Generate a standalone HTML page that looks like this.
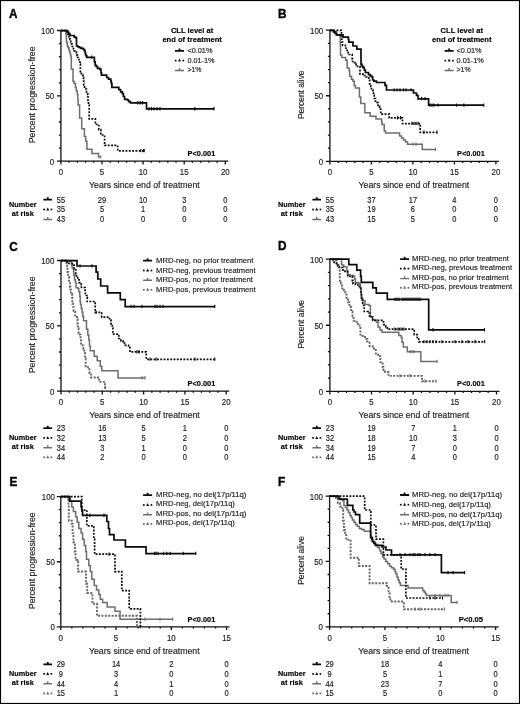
<!DOCTYPE html>
<html><head><meta charset="utf-8"><style>
html,body{margin:0;padding:0;background:#fff;}
svg{display:block;font-family:"Liberation Sans", sans-serif;-webkit-font-smoothing:antialiased;will-change:transform;}
text{stroke:currentColor;stroke-width:0.15px;paint-order:stroke;}
</style></head><body>
<svg width="520" height="704" viewBox="0 0 520 704">
<rect x="0" y="0" width="520" height="704" fill="#fff"/>
<rect x="0.5" y="0.5" width="519" height="703" fill="none" stroke="#000" stroke-width="1.2"/>
<path d="M60.90,29.70V161.80M56.90,161.20H60.90M58.90,148.13H60.90M58.90,135.06H60.90M58.90,121.99H60.90M58.90,108.92H60.90M56.90,95.85H60.90M58.90,82.78H60.90M58.90,69.71H60.90M58.90,56.64H60.90M58.90,43.57H60.90M56.90,30.50H60.90M57.70,161.20H228.30M60.90,161.20V164.50M69.12,161.20V162.80M77.34,161.20V162.80M85.56,161.20V162.80M93.78,161.20V162.80M102.00,161.20V164.50M110.22,161.20V162.80M118.44,161.20V162.80M126.66,161.20V162.80M134.88,161.20V162.80M143.10,161.20V164.50M151.32,161.20V162.80M159.54,161.20V162.80M167.76,161.20V162.80M175.98,161.20V162.80M184.20,161.20V164.50M192.42,161.20V162.80M200.64,161.20V162.80M208.86,161.20V162.80M217.08,161.20V162.80M225.30,161.20V164.50" stroke="#111" stroke-width="1.3" fill="none"/>
<text transform="translate(54.20,164.80) scale(0.95,1)" font-size="8.3" text-anchor="end" fill="#222">0</text>
<text transform="translate(54.20,99.45) scale(0.95,1)" font-size="8.3" text-anchor="end" fill="#222">50</text>
<text transform="translate(54.20,34.10) scale(0.95,1)" font-size="8.3" text-anchor="end" fill="#222">100</text>
<text transform="translate(60.90,174.90) scale(0.95,1)" font-size="8.3" text-anchor="middle" fill="#222">0</text>
<text transform="translate(102.00,174.90) scale(0.95,1)" font-size="8.3" text-anchor="middle" fill="#222">5</text>
<text transform="translate(143.10,174.90) scale(0.95,1)" font-size="8.3" text-anchor="middle" fill="#222">10</text>
<text transform="translate(184.20,174.90) scale(0.95,1)" font-size="8.3" text-anchor="middle" fill="#222">15</text>
<text transform="translate(225.30,174.90) scale(0.95,1)" font-size="8.3" text-anchor="middle" fill="#222">20</text>
<text transform="translate(9.00,17.60) scale(0.9,1)" font-size="13.1" font-weight="bold" text-anchor="start" fill="#000" style="stroke-width:0.4px">A</text>
<text transform="translate(34.80,94.85) rotate(-90)" font-size="8.8" text-anchor="middle" fill="#222" textLength="97.0" lengthAdjust="spacingAndGlyphs">Percent progression-free</text>
<text x="89.10" y="188.00" font-size="9.4" text-anchor="start" fill="#222" textLength="110.6" lengthAdjust="spacingAndGlyphs">Years since end of treatment</text>
<path d="M60.90,30.60H66.00V34.00H66.30V38.00H66.50V42.60H67.30V45.70H68.00V47.50H68.80V49.50H69.40V51.50H70.00V53.40H70.60V56.00H71.20V58.80H71.30V69.00H73.00V81.20H74.00V83.50H75.40V87.40H76.30V91.00H77.30V94.30H77.80V99.00H78.10V104.90H79.60V118.00H81.70V128.80H84.40V136.50H85.80V141.20H86.90V149.20H91.90V153.50H98.50V157.00H100.80" stroke="#6e6e6e" stroke-width="1.5" fill="none" stroke-linejoin="miter"/>
<path d="M100.80,155.20V158.50M100.80,155.20V158.50" stroke="#6e6e6e" stroke-width="1.1" fill="none"/>
<path d="M60.90,30.60H67.30V32.50H68.00V34.50H69.00V37.00H70.00V39.50H70.80V42.00H71.50V44.00H72.30V46.50H73.50V49.00H74.20V50.80H76.50V53.00H77.00V55.30H77.60V57.50H78.20V59.50H79.00V62.00H80.00V64.20H80.40V73.70H83.00V77.40H83.50V81.00H83.80V85.00H84.60V89.00H86.50V92.80H87.70V94.30H88.00V100.50H88.50V105.00H89.20V118.90H95.40V124.50H98.80V129.60H100.80V135.00H104.60V145.40H117.70V150.80H144.20" stroke="#0a0a0a" stroke-width="1.7" fill="none" stroke-linejoin="miter" stroke-dasharray="1.9 1.4"/>
<path d="M140.80,149.00V152.30M143.50,149.00V152.30M144.20,149.00V152.30" stroke="#0a0a0a" stroke-width="1.1" fill="none"/>
<path d="M60.90,30.60H67.60V32.00H68.60V33.60H69.90V35.50H74.20V37.20H76.00V38.20H76.50V46.00H78.00V46.80H79.50V47.60H81.00V48.40H83.40V49.50H84.50V51.00H85.20V53.50H85.70V55.70H86.80V57.30H94.40V61.90H95.20V65.40H96.30V66.50H97.50V68.30H99.80V69.40H101.00V72.90H101.50V75.20H106.70V77.50H108.50V79.20H110.80V81.00H111.30V83.30H111.90V87.30H118.80V89.60H120.60V91.90H122.30V93.60H123.40V96.50H124.60V99.40H127.50V100.00H128.60V101.70H130.40V102.90H146.50V108.90H214.00" stroke="#0a0a0a" stroke-width="1.7" fill="none" stroke-linejoin="miter"/>
<path d="M91.70,55.50V58.80M137.90,101.10V104.40M140.20,101.10V104.40M142.50,101.10V104.40M149.00,107.10V110.40M151.50,107.10V110.40M154.00,107.10V110.40M157.00,107.10V110.40M160.00,107.10V110.40M194.80,107.10V110.40M214.00,107.10V110.40" stroke="#0a0a0a" stroke-width="1.1" fill="none"/>
<text x="192.10" y="33.10" font-size="8.0" font-weight="bold" text-anchor="middle" fill="#000" textLength="42.4" lengthAdjust="spacingAndGlyphs">CLL level at</text>
<text x="192.10" y="42.00" font-size="8.0" font-weight="bold" text-anchor="middle" fill="#000" textLength="59.4" lengthAdjust="spacingAndGlyphs">end of treatment</text>
<path d="M175.00,50.90H184.00M179.50,50.90V48.50" stroke="#0a0a0a" stroke-width="1.8" fill="none"/>
<text x="187.40" y="53.00" font-size="8.1" text-anchor="start" fill="#1a1a1a" textLength="25.0" lengthAdjust="spacingAndGlyphs">&lt;0.01%</text>
<rect x="174.85" y="59.75" width="1.70" height="1.70" fill="#0a0a0a"/>
<rect x="182.45" y="59.75" width="1.70" height="1.70" fill="#0a0a0a"/>
<path d="M178.00,61.60L179.50,58.60L181.00,61.60Z" fill="#0a0a0a"/>
<text x="187.40" y="62.70" font-size="8.1" text-anchor="start" fill="#1a1a1a" textLength="27.2" lengthAdjust="spacingAndGlyphs">0.01-1%</text>
<path d="M175.00,70.50H184.00M179.50,70.50V68.10" stroke="#6e6e6e" stroke-width="1.4" fill="none"/>
<text x="187.40" y="72.20" font-size="8.1" text-anchor="start" fill="#1a1a1a" textLength="14.0" lengthAdjust="spacingAndGlyphs">&gt;1%</text>
<text x="201.40" y="155.90" font-size="8.0" font-weight="bold" text-anchor="middle" fill="#000" textLength="27.7" lengthAdjust="spacingAndGlyphs">P&lt;0.001</text>
<text x="22.80" y="206.80" font-size="7.8" font-weight="bold" text-anchor="middle" fill="#000" textLength="27.4" lengthAdjust="spacingAndGlyphs">Number</text>
<text x="22.80" y="215.50" font-size="7.8" font-weight="bold" text-anchor="middle" fill="#000" textLength="22.0" lengthAdjust="spacingAndGlyphs">at risk</text>
<path d="M43.40,199.60H52.10M47.75,199.60V197.20" stroke="#0a0a0a" stroke-width="1.8" fill="none"/>
<text transform="translate(60.90,202.55) scale(0.91,1)" font-size="8.2" text-anchor="middle" fill="#1a1a1a">55</text>
<text transform="translate(102.00,202.55) scale(0.91,1)" font-size="8.2" text-anchor="middle" fill="#1a1a1a">29</text>
<text transform="translate(143.10,202.55) scale(0.91,1)" font-size="8.2" text-anchor="middle" fill="#1a1a1a">10</text>
<text transform="translate(184.20,202.55) scale(0.91,1)" font-size="8.2" text-anchor="middle" fill="#1a1a1a">3</text>
<text transform="translate(225.30,202.55) scale(0.91,1)" font-size="8.2" text-anchor="middle" fill="#1a1a1a">0</text>
<rect x="43.25" y="208.65" width="1.70" height="1.70" fill="#0a0a0a"/>
<rect x="50.55" y="208.65" width="1.70" height="1.70" fill="#0a0a0a"/>
<path d="M46.25,210.50L47.75,207.50L49.25,210.50Z" fill="#0a0a0a"/>
<text transform="translate(60.90,212.45) scale(0.91,1)" font-size="8.2" text-anchor="middle" fill="#1a1a1a">35</text>
<text transform="translate(102.00,212.45) scale(0.91,1)" font-size="8.2" text-anchor="middle" fill="#1a1a1a">5</text>
<text transform="translate(143.10,212.45) scale(0.91,1)" font-size="8.2" text-anchor="middle" fill="#1a1a1a">1</text>
<text transform="translate(184.20,212.45) scale(0.91,1)" font-size="8.2" text-anchor="middle" fill="#1a1a1a">0</text>
<text transform="translate(225.30,212.45) scale(0.91,1)" font-size="8.2" text-anchor="middle" fill="#1a1a1a">0</text>
<path d="M43.40,219.50H52.10M47.75,219.50V217.10" stroke="#6e6e6e" stroke-width="1.4" fill="none"/>
<text transform="translate(60.90,222.45) scale(0.91,1)" font-size="8.2" text-anchor="middle" fill="#1a1a1a">43</text>
<text transform="translate(102.00,222.45) scale(0.91,1)" font-size="8.2" text-anchor="middle" fill="#1a1a1a">0</text>
<text transform="translate(143.10,222.45) scale(0.91,1)" font-size="8.2" text-anchor="middle" fill="#1a1a1a">0</text>
<text transform="translate(184.20,222.45) scale(0.91,1)" font-size="8.2" text-anchor="middle" fill="#1a1a1a">0</text>
<text transform="translate(225.30,222.45) scale(0.91,1)" font-size="8.2" text-anchor="middle" fill="#1a1a1a">0</text>
<path d="M329.90,29.40V161.90M325.90,161.30H329.90M327.90,148.19H329.90M327.90,135.08H329.90M327.90,121.97H329.90M327.90,108.86H329.90M325.90,95.75H329.90M327.90,82.64H329.90M327.90,69.53H329.90M327.90,56.42H329.90M327.90,43.31H329.90M325.90,30.20H329.90M326.70,161.30H498.90M329.90,161.30V164.60M338.20,161.30V162.90M346.50,161.30V162.90M354.80,161.30V162.90M363.10,161.30V162.90M371.40,161.30V164.60M379.70,161.30V162.90M388.00,161.30V162.90M396.30,161.30V162.90M404.60,161.30V162.90M412.90,161.30V164.60M421.20,161.30V162.90M429.50,161.30V162.90M437.80,161.30V162.90M446.10,161.30V162.90M454.40,161.30V164.60M462.70,161.30V162.90M471.00,161.30V162.90M479.30,161.30V162.90M487.60,161.30V162.90M495.90,161.30V164.60" stroke="#111" stroke-width="1.3" fill="none"/>
<text transform="translate(323.20,164.90) scale(0.95,1)" font-size="8.3" text-anchor="end" fill="#222">0</text>
<text transform="translate(323.20,99.35) scale(0.95,1)" font-size="8.3" text-anchor="end" fill="#222">50</text>
<text transform="translate(323.20,33.80) scale(0.95,1)" font-size="8.3" text-anchor="end" fill="#222">100</text>
<text transform="translate(329.90,175.00) scale(0.95,1)" font-size="8.3" text-anchor="middle" fill="#222">0</text>
<text transform="translate(371.40,175.00) scale(0.95,1)" font-size="8.3" text-anchor="middle" fill="#222">5</text>
<text transform="translate(412.90,175.00) scale(0.95,1)" font-size="8.3" text-anchor="middle" fill="#222">10</text>
<text transform="translate(454.40,175.00) scale(0.95,1)" font-size="8.3" text-anchor="middle" fill="#222">15</text>
<text transform="translate(495.90,175.00) scale(0.95,1)" font-size="8.3" text-anchor="middle" fill="#222">20</text>
<text transform="translate(278.00,17.60) scale(0.9,1)" font-size="13.1" font-weight="bold" text-anchor="start" fill="#000" style="stroke-width:0.4px">B</text>
<text transform="translate(303.80,94.75) rotate(-90)" font-size="8.8" text-anchor="middle" fill="#222" textLength="48.6" lengthAdjust="spacingAndGlyphs">Percent alive</text>
<text x="358.60" y="188.10" font-size="9.4" text-anchor="start" fill="#222" textLength="110.6" lengthAdjust="spacingAndGlyphs">Years since end of treatment</text>
<path d="M329.90,30.30H333.40V31.50H336.50V34.90H339.80V35.70H340.30V45.00H340.50V54.90H341.80V57.40H345.60V60.30H347.20V68.00H349.20V70.80H349.60V76.20H351.50V79.20H353.00V81.20H354.20V85.40H355.40V88.00H359.40V96.90H360.80V103.60H364.80V112.80H370.20V116.30H376.00V119.00H381.60V121.50H382.00V124.60H384.20V130.80H385.50V133.00H399.60V136.00H401.50V138.00H403.50V140.00H405.50V142.00H407.60V144.20H422.30V149.60H435.40" stroke="#6e6e6e" stroke-width="1.5" fill="none" stroke-linejoin="miter"/>
<path d="M413.00,142.40V145.70M416.00,142.40V145.70M435.40,147.80V151.10" stroke="#6e6e6e" stroke-width="1.1" fill="none"/>
<path d="M329.90,30.30H341.50V37.20H341.80V42.20H342.60V45.30H345.30V46.80H346.00V50.30H347.20V52.60H349.20V54.50H352.20V58.80H352.60V62.60H355.00V64.20H356.00V66.30H360.00V74.20H364.20V75.50H366.00V77.00H367.70V77.70H368.80V80.00H369.60V83.80H370.80V86.50H371.50V90.00H373.00V92.30H373.50V95.40H374.20V98.50H375.40V101.20H377.30V102.70H378.00V106.20H379.60V109.20H380.80V114.20H389.20V117.90H402.50V123.60H420.20V132.30H437.00" stroke="#0a0a0a" stroke-width="1.7" fill="none" stroke-linejoin="miter" stroke-dasharray="1.9 1.4"/>
<path d="M397.50,116.10V119.40M400.50,116.10V119.40M412.00,121.80V125.10M414.00,121.80V125.10M416.00,121.80V125.10M418.00,121.80V125.10M424.00,130.50V133.80M437.00,130.50V133.80" stroke="#0a0a0a" stroke-width="1.1" fill="none"/>
<path d="M329.90,30.30H333.40V31.80H335.00V33.40H336.50V34.90H343.00V37.20H348.40V39.50H348.80V42.20H353.00V46.00H356.80V49.20H361.00V64.20H361.80V65.70H362.70V67.30H364.20V70.00H365.40V72.50H368.50V74.60H370.40V76.20H371.90V77.00H372.70V80.00H373.80V81.20H376.50V82.50H385.00V85.40H386.50V90.00H413.50V93.00H416.50V95.40H418.00V98.80H428.60V105.20H483.80" stroke="#0a0a0a" stroke-width="1.7" fill="none" stroke-linejoin="miter"/>
<path d="M394.20,88.20V91.50M397.00,88.20V91.50M400.00,88.20V91.50M403.50,88.20V91.50M406.00,88.20V91.50M411.00,88.20V91.50M421.50,97.00V100.30M425.00,97.00V100.30M430.00,103.40V106.70M432.00,103.40V106.70M434.00,103.40V106.70M438.00,103.40V106.70M456.50,103.40V106.70M464.00,103.40V106.70M483.80,103.40V106.70" stroke="#0a0a0a" stroke-width="1.1" fill="none"/>
<text x="461.80" y="33.10" font-size="8.0" font-weight="bold" text-anchor="middle" fill="#000" textLength="42.4" lengthAdjust="spacingAndGlyphs">CLL level at</text>
<text x="461.80" y="42.00" font-size="8.0" font-weight="bold" text-anchor="middle" fill="#000" textLength="59.4" lengthAdjust="spacingAndGlyphs">end of treatment</text>
<path d="M444.60,50.90H453.60M449.10,50.90V48.50" stroke="#0a0a0a" stroke-width="1.8" fill="none"/>
<text x="456.60" y="53.00" font-size="8.1" text-anchor="start" fill="#1a1a1a" textLength="25.0" lengthAdjust="spacingAndGlyphs">&lt;0.01%</text>
<rect x="444.45" y="59.75" width="1.70" height="1.70" fill="#0a0a0a"/>
<rect x="452.05" y="59.75" width="1.70" height="1.70" fill="#0a0a0a"/>
<path d="M447.60,61.60L449.10,58.60L450.60,61.60Z" fill="#0a0a0a"/>
<text x="456.60" y="62.70" font-size="8.1" text-anchor="start" fill="#1a1a1a" textLength="27.2" lengthAdjust="spacingAndGlyphs">0.01-1%</text>
<path d="M444.60,70.50H453.60M449.10,70.50V68.10" stroke="#6e6e6e" stroke-width="1.4" fill="none"/>
<text x="456.60" y="72.20" font-size="8.1" text-anchor="start" fill="#1a1a1a" textLength="14.0" lengthAdjust="spacingAndGlyphs">&gt;1%</text>
<text x="470.90" y="155.90" font-size="8.0" font-weight="bold" text-anchor="middle" fill="#000" textLength="27.7" lengthAdjust="spacingAndGlyphs">P&lt;0.001</text>
<text x="291.80" y="206.80" font-size="7.8" font-weight="bold" text-anchor="middle" fill="#000" textLength="27.4" lengthAdjust="spacingAndGlyphs">Number</text>
<text x="291.80" y="215.50" font-size="7.8" font-weight="bold" text-anchor="middle" fill="#000" textLength="22.0" lengthAdjust="spacingAndGlyphs">at risk</text>
<path d="M312.40,199.60H321.10M316.75,199.60V197.20" stroke="#0a0a0a" stroke-width="1.8" fill="none"/>
<text transform="translate(329.90,202.55) scale(0.91,1)" font-size="8.2" text-anchor="middle" fill="#1a1a1a">55</text>
<text transform="translate(371.40,202.55) scale(0.91,1)" font-size="8.2" text-anchor="middle" fill="#1a1a1a">37</text>
<text transform="translate(412.90,202.55) scale(0.91,1)" font-size="8.2" text-anchor="middle" fill="#1a1a1a">17</text>
<text transform="translate(454.40,202.55) scale(0.91,1)" font-size="8.2" text-anchor="middle" fill="#1a1a1a">4</text>
<text transform="translate(495.90,202.55) scale(0.91,1)" font-size="8.2" text-anchor="middle" fill="#1a1a1a">0</text>
<rect x="312.25" y="208.65" width="1.70" height="1.70" fill="#0a0a0a"/>
<rect x="319.55" y="208.65" width="1.70" height="1.70" fill="#0a0a0a"/>
<path d="M315.25,210.50L316.75,207.50L318.25,210.50Z" fill="#0a0a0a"/>
<text transform="translate(329.90,212.45) scale(0.91,1)" font-size="8.2" text-anchor="middle" fill="#1a1a1a">35</text>
<text transform="translate(371.40,212.45) scale(0.91,1)" font-size="8.2" text-anchor="middle" fill="#1a1a1a">19</text>
<text transform="translate(412.90,212.45) scale(0.91,1)" font-size="8.2" text-anchor="middle" fill="#1a1a1a">6</text>
<text transform="translate(454.40,212.45) scale(0.91,1)" font-size="8.2" text-anchor="middle" fill="#1a1a1a">0</text>
<text transform="translate(495.90,212.45) scale(0.91,1)" font-size="8.2" text-anchor="middle" fill="#1a1a1a">0</text>
<path d="M312.40,219.50H321.10M316.75,219.50V217.10" stroke="#6e6e6e" stroke-width="1.4" fill="none"/>
<text transform="translate(329.90,222.45) scale(0.91,1)" font-size="8.2" text-anchor="middle" fill="#1a1a1a">43</text>
<text transform="translate(371.40,222.45) scale(0.91,1)" font-size="8.2" text-anchor="middle" fill="#1a1a1a">15</text>
<text transform="translate(412.90,222.45) scale(0.91,1)" font-size="8.2" text-anchor="middle" fill="#1a1a1a">5</text>
<text transform="translate(454.40,222.45) scale(0.91,1)" font-size="8.2" text-anchor="middle" fill="#1a1a1a">0</text>
<text transform="translate(495.90,222.45) scale(0.91,1)" font-size="8.2" text-anchor="middle" fill="#1a1a1a">0</text>
<path d="M61.00,259.70V391.80M57.00,391.20H61.00M59.00,378.13H61.00M59.00,365.06H61.00M59.00,351.99H61.00M59.00,338.92H61.00M57.00,325.85H61.00M59.00,312.78H61.00M59.00,299.71H61.00M59.00,286.64H61.00M59.00,273.57H61.00M57.00,260.50H61.00M57.80,391.20H229.20M61.00,391.20V394.50M69.26,391.20V392.80M77.52,391.20V392.80M85.78,391.20V392.80M94.04,391.20V392.80M102.30,391.20V394.50M110.56,391.20V392.80M118.82,391.20V392.80M127.08,391.20V392.80M135.34,391.20V392.80M143.60,391.20V394.50M151.86,391.20V392.80M160.12,391.20V392.80M168.38,391.20V392.80M176.64,391.20V392.80M184.90,391.20V394.50M193.16,391.20V392.80M201.42,391.20V392.80M209.68,391.20V392.80M217.94,391.20V392.80M226.20,391.20V394.50" stroke="#111" stroke-width="1.3" fill="none"/>
<text transform="translate(54.30,394.80) scale(0.95,1)" font-size="8.3" text-anchor="end" fill="#222">0</text>
<text transform="translate(54.30,329.45) scale(0.95,1)" font-size="8.3" text-anchor="end" fill="#222">50</text>
<text transform="translate(54.30,264.10) scale(0.95,1)" font-size="8.3" text-anchor="end" fill="#222">100</text>
<text transform="translate(61.00,404.90) scale(0.95,1)" font-size="8.3" text-anchor="middle" fill="#222">0</text>
<text transform="translate(102.30,404.90) scale(0.95,1)" font-size="8.3" text-anchor="middle" fill="#222">5</text>
<text transform="translate(143.60,404.90) scale(0.95,1)" font-size="8.3" text-anchor="middle" fill="#222">10</text>
<text transform="translate(184.90,404.90) scale(0.95,1)" font-size="8.3" text-anchor="middle" fill="#222">15</text>
<text transform="translate(226.20,404.90) scale(0.95,1)" font-size="8.3" text-anchor="middle" fill="#222">20</text>
<text transform="translate(9.20,250.50) scale(0.9,1)" font-size="13.1" font-weight="bold" text-anchor="start" fill="#000" style="stroke-width:0.4px">C</text>
<text transform="translate(34.90,324.85) rotate(-90)" font-size="8.8" text-anchor="middle" fill="#222" textLength="97.0" lengthAdjust="spacingAndGlyphs">Percent progression-free</text>
<text x="89.20" y="418.00" font-size="9.4" text-anchor="start" fill="#222" textLength="110.6" lengthAdjust="spacingAndGlyphs">Years since end of treatment</text>
<path d="M61.00,260.60H66.60V263.00H67.00V267.00H67.50V272.00H68.20V277.00H69.00V282.00H70.00V287.00H70.50V290.00H70.90V293.80H72.10V297.70H72.30V303.80H73.20V306.90H73.60V310.80H75.20V316.90H77.10V319.20H77.50V323.80H77.80V328.50H78.60V333.00H79.80V334.60H80.50V339.20H81.00V345.40H83.40V348.50H84.20V353.00H85.00V358.50H85.70V366.20H88.00V369.20H89.50V373.00H91.00V377.50H99.20V381.90H105.00V387.70H105.50" stroke="#666666" stroke-width="1.9" fill="none" stroke-linejoin="miter" stroke-dasharray="2.0 1.4"/>
<path d="M105.50,385.90V389.20" stroke="#666666" stroke-width="1.1" fill="none"/>
<path d="M61.00,260.60H69.50V261.50H71.50V264.90H72.10V268.10H73.50V271.30H73.80V275.30H74.50V279.80H75.40V282.60H76.10V287.70H77.90V288.60H78.80V291.80H79.80V296.50H80.20V302.00H80.50V304.60H81.30V308.50H82.10V312.30H82.80V316.50H83.60V320.80H86.50V329.20H87.80V335.00H88.80V340.00H89.50V346.00H90.30V350.80H94.20V356.20H97.20V360.80H100.30V366.20H101.80V370.80H118.00V377.90H145.00" stroke="#6e6e6e" stroke-width="1.5" fill="none" stroke-linejoin="miter"/>
<path d="M142.00,376.10V379.40M145.00,376.10V379.40" stroke="#6e6e6e" stroke-width="1.1" fill="none"/>
<path d="M61.00,260.60H67.00V262.00H67.50V263.50H73.50V265.00H74.10V268.70H75.80V273.60H76.50V277.60H77.70V279.80H79.10V282.60H81.30V285.00H81.50V287.50H85.10V291.80H85.30V295.50H86.90V297.40H87.20V301.50H95.20V312.30H101.70V317.20H109.50V320.00H111.00V323.80H112.30V328.00H112.80V334.20H118.80V338.50H121.00V340.80H123.00V343.00H124.50V345.40H128.50V347.70H130.00V351.90H146.20V359.30H214.80" stroke="#0a0a0a" stroke-width="1.7" fill="none" stroke-linejoin="miter" stroke-dasharray="1.9 1.4"/>
<path d="M96.00,310.50V313.80M137.00,350.10V353.40M139.00,350.10V353.40M150.00,357.50V360.80M156.00,357.50V360.80M195.00,357.50V360.80M214.80,357.50V360.80" stroke="#0a0a0a" stroke-width="1.1" fill="none"/>
<path d="M61.00,260.60H77.00V266.00H96.10V272.10H97.80V279.00H100.70V286.00H107.60V292.90H120.30V299.60H125.20V306.60H214.80" stroke="#0a0a0a" stroke-width="1.7" fill="none" stroke-linejoin="miter"/>
<path d="M80.00,264.20V267.50M92.00,264.20V267.50M131.00,304.80V308.10M134.00,304.80V308.10M142.00,304.80V308.10M155.00,304.80V308.10M157.00,304.80V308.10M160.00,304.80V308.10M163.00,304.80V308.10M214.80,304.80V308.10" stroke="#0a0a0a" stroke-width="1.1" fill="none"/>
<path d="M143.10,260.70H152.10M147.60,260.70V258.30" stroke="#0a0a0a" stroke-width="1.8" fill="none"/>
<text x="156.10" y="262.80" font-size="8.1" text-anchor="start" fill="#1a1a1a" textLength="97.3" lengthAdjust="spacingAndGlyphs">MRD-neg, no prior treatment</text>
<rect x="142.95" y="269.65" width="1.70" height="1.70" fill="#0a0a0a"/>
<rect x="150.55" y="269.65" width="1.70" height="1.70" fill="#0a0a0a"/>
<path d="M146.10,271.50L147.60,268.50L149.10,271.50Z" fill="#0a0a0a"/>
<text x="156.10" y="272.60" font-size="8.1" text-anchor="start" fill="#1a1a1a" textLength="99.6" lengthAdjust="spacingAndGlyphs">MRD-neg, previous treatment</text>
<path d="M143.10,280.20H152.10M147.60,280.20V277.80" stroke="#6e6e6e" stroke-width="1.4" fill="none"/>
<text x="156.10" y="282.30" font-size="8.1" text-anchor="start" fill="#1a1a1a" textLength="96.8" lengthAdjust="spacingAndGlyphs">MRD-pos, no prior treatment</text>
<rect x="142.95" y="288.95" width="1.70" height="1.70" fill="#666666"/>
<rect x="150.55" y="288.95" width="1.70" height="1.70" fill="#666666"/>
<path d="M146.10,290.80L147.60,287.80L149.10,290.80Z" fill="#666666"/>
<text x="156.10" y="291.90" font-size="8.1" text-anchor="start" fill="#1a1a1a" textLength="99.6" lengthAdjust="spacingAndGlyphs">MRD-pos, previous treatment</text>
<text x="201.40" y="385.60" font-size="8.0" font-weight="bold" text-anchor="middle" fill="#000" textLength="27.7" lengthAdjust="spacingAndGlyphs">P&lt;0.001</text>
<text x="22.80" y="440.30" font-size="7.8" font-weight="bold" text-anchor="middle" fill="#000" textLength="27.4" lengthAdjust="spacingAndGlyphs">Number</text>
<text x="22.80" y="449.30" font-size="7.8" font-weight="bold" text-anchor="middle" fill="#000" textLength="22.0" lengthAdjust="spacingAndGlyphs">at risk</text>
<path d="M43.40,428.10H52.10M47.75,428.10V425.70" stroke="#0a0a0a" stroke-width="1.8" fill="none"/>
<text transform="translate(61.00,431.05) scale(0.91,1)" font-size="8.2" text-anchor="middle" fill="#1a1a1a">23</text>
<text transform="translate(102.30,431.05) scale(0.91,1)" font-size="8.2" text-anchor="middle" fill="#1a1a1a">16</text>
<text transform="translate(143.60,431.05) scale(0.91,1)" font-size="8.2" text-anchor="middle" fill="#1a1a1a">5</text>
<text transform="translate(184.90,431.05) scale(0.91,1)" font-size="8.2" text-anchor="middle" fill="#1a1a1a">1</text>
<text transform="translate(226.20,431.05) scale(0.91,1)" font-size="8.2" text-anchor="middle" fill="#1a1a1a">0</text>
<rect x="43.25" y="437.05" width="1.70" height="1.70" fill="#0a0a0a"/>
<rect x="50.55" y="437.05" width="1.70" height="1.70" fill="#0a0a0a"/>
<path d="M46.25,438.90L47.75,435.90L49.25,438.90Z" fill="#0a0a0a"/>
<text transform="translate(61.00,440.85) scale(0.91,1)" font-size="8.2" text-anchor="middle" fill="#1a1a1a">32</text>
<text transform="translate(102.30,440.85) scale(0.91,1)" font-size="8.2" text-anchor="middle" fill="#1a1a1a">13</text>
<text transform="translate(143.60,440.85) scale(0.91,1)" font-size="8.2" text-anchor="middle" fill="#1a1a1a">5</text>
<text transform="translate(184.90,440.85) scale(0.91,1)" font-size="8.2" text-anchor="middle" fill="#1a1a1a">2</text>
<text transform="translate(226.20,440.85) scale(0.91,1)" font-size="8.2" text-anchor="middle" fill="#1a1a1a">0</text>
<path d="M43.40,447.70H52.10M47.75,447.70V445.30" stroke="#6e6e6e" stroke-width="1.4" fill="none"/>
<text transform="translate(61.00,450.65) scale(0.91,1)" font-size="8.2" text-anchor="middle" fill="#1a1a1a">34</text>
<text transform="translate(102.30,450.65) scale(0.91,1)" font-size="8.2" text-anchor="middle" fill="#1a1a1a">3</text>
<text transform="translate(143.60,450.65) scale(0.91,1)" font-size="8.2" text-anchor="middle" fill="#1a1a1a">1</text>
<text transform="translate(184.90,450.65) scale(0.91,1)" font-size="8.2" text-anchor="middle" fill="#1a1a1a">0</text>
<text transform="translate(226.20,450.65) scale(0.91,1)" font-size="8.2" text-anchor="middle" fill="#1a1a1a">0</text>
<rect x="43.25" y="456.45" width="1.70" height="1.70" fill="#666666"/>
<rect x="50.55" y="456.45" width="1.70" height="1.70" fill="#666666"/>
<path d="M46.25,458.30L47.75,455.30L49.25,458.30Z" fill="#666666"/>
<text transform="translate(61.00,460.25) scale(0.91,1)" font-size="8.2" text-anchor="middle" fill="#1a1a1a">44</text>
<text transform="translate(102.30,460.25) scale(0.91,1)" font-size="8.2" text-anchor="middle" fill="#1a1a1a">2</text>
<text transform="translate(143.60,460.25) scale(0.91,1)" font-size="8.2" text-anchor="middle" fill="#1a1a1a">0</text>
<text transform="translate(184.90,460.25) scale(0.91,1)" font-size="8.2" text-anchor="middle" fill="#1a1a1a">0</text>
<text transform="translate(226.20,460.25) scale(0.91,1)" font-size="8.2" text-anchor="middle" fill="#1a1a1a">0</text>
<path d="M329.90,258.40V391.90M325.90,391.30H329.90M327.90,378.09H329.90M327.90,364.88H329.90M327.90,351.67H329.90M327.90,338.46H329.90M325.90,325.25H329.90M327.90,312.04H329.90M327.90,298.83H329.90M327.90,285.62H329.90M327.90,272.41H329.90M325.90,259.20H329.90M326.70,391.30H499.50M329.90,391.30V394.60M338.23,391.30V392.90M346.56,391.30V392.90M354.89,391.30V392.90M363.22,391.30V392.90M371.55,391.30V394.60M379.88,391.30V392.90M388.21,391.30V392.90M396.54,391.30V392.90M404.87,391.30V392.90M413.20,391.30V394.60M421.53,391.30V392.90M429.86,391.30V392.90M438.19,391.30V392.90M446.52,391.30V392.90M454.85,391.30V394.60M463.18,391.30V392.90M471.51,391.30V392.90M479.84,391.30V392.90M488.17,391.30V392.90M496.50,391.30V394.60" stroke="#111" stroke-width="1.3" fill="none"/>
<text transform="translate(323.20,394.90) scale(0.95,1)" font-size="8.3" text-anchor="end" fill="#222">0</text>
<text transform="translate(323.20,328.85) scale(0.95,1)" font-size="8.3" text-anchor="end" fill="#222">50</text>
<text transform="translate(323.20,262.80) scale(0.95,1)" font-size="8.3" text-anchor="end" fill="#222">100</text>
<text transform="translate(329.90,405.00) scale(0.95,1)" font-size="8.3" text-anchor="middle" fill="#222">0</text>
<text transform="translate(371.55,405.00) scale(0.95,1)" font-size="8.3" text-anchor="middle" fill="#222">5</text>
<text transform="translate(413.20,405.00) scale(0.95,1)" font-size="8.3" text-anchor="middle" fill="#222">10</text>
<text transform="translate(454.85,405.00) scale(0.95,1)" font-size="8.3" text-anchor="middle" fill="#222">15</text>
<text transform="translate(496.50,405.00) scale(0.95,1)" font-size="8.3" text-anchor="middle" fill="#222">20</text>
<text transform="translate(278.00,250.20) scale(0.9,1)" font-size="13.1" font-weight="bold" text-anchor="start" fill="#000" style="stroke-width:0.4px">D</text>
<text transform="translate(303.80,324.25) rotate(-90)" font-size="8.8" text-anchor="middle" fill="#222" textLength="48.6" lengthAdjust="spacingAndGlyphs">Percent alive</text>
<text x="358.60" y="418.10" font-size="9.4" text-anchor="start" fill="#222" textLength="110.6" lengthAdjust="spacingAndGlyphs">Years since end of treatment</text>
<path d="M329.80,259.10H333.00V260.50H336.90V263.70H338.50V266.00H339.60V269.00H339.80V282.20H340.80V283.30H341.90V286.00H342.30V289.80H343.80V292.20H345.40V294.50H346.50V297.80H348.00V302.30H349.50V307.00H351.20V311.50H352.50V316.00H353.50V320.80H356.50V323.80H359.60V327.00H360.40V334.60H362.70V337.00H365.00V339.00H367.30V341.50H369.60V346.20H372.70V348.50H375.80V354.60H378.00V356.20H380.40V362.30H382.70V367.00H383.50V370.00H385.00V372.00H388.50V375.90H422.00V381.20H436.00" stroke="#666666" stroke-width="1.9" fill="none" stroke-linejoin="miter" stroke-dasharray="2.0 1.4"/>
<path d="M400.00,374.10V377.40M410.00,374.10V377.40M425.00,379.40V382.70M436.00,379.40V382.70" stroke="#666666" stroke-width="1.1" fill="none"/>
<path d="M329.80,259.10H341.50V264.50H342.70V265.20H343.80V266.80H346.90V271.40H347.70V274.50H350.00V275.60H353.00V276.00H354.60V279.00H355.40V282.50H358.00V283.00H359.60V284.00H360.40V288.30H361.20V296.00H362.00V300.80H365.00V304.60H368.80V305.40H370.40V317.00H372.70V320.00H376.50V322.30H378.00V327.00H380.00V330.00H381.90V332.30H398.80V335.40H401.20V337.60H402.00V342.30H403.30V347.10H407.30V351.80H420.80V361.50H437.10" stroke="#6e6e6e" stroke-width="1.5" fill="none" stroke-linejoin="miter"/>
<path d="M410.00,350.00V353.30M412.00,350.00V353.30M414.00,350.00V353.30M437.10,359.70V363.00" stroke="#6e6e6e" stroke-width="1.1" fill="none"/>
<path d="M329.80,259.10H333.80V260.60H334.20V263.30H337.70V266.00H339.20V267.50H342.70V269.80H345.00V271.40H347.70V275.60H348.80V276.40H352.30V280.60H353.00V283.70H355.40V284.50H357.80V286.30H359.30V288.00H360.80V294.00H361.40V299.20H362.70V305.40H364.20V311.50H368.00V313.00H369.60V317.00H372.70V320.30H383.50V324.60H385.80V327.00H387.30V329.20H414.20V334.60H417.30V339.20H418.80V341.80H484.70" stroke="#0a0a0a" stroke-width="1.7" fill="none" stroke-linejoin="miter" stroke-dasharray="1.9 1.4"/>
<path d="M395.00,327.40V330.70M398.00,327.40V330.70M400.00,327.40V330.70M402.00,327.40V330.70M404.00,327.40V330.70M424.00,340.00V343.30M427.00,340.00V343.30M430.00,340.00V343.30M433.00,340.00V343.30M436.00,340.00V343.30M442.00,340.00V343.30M455.00,340.00V343.30M462.00,340.00V343.30M468.00,340.00V343.30M475.00,340.00V343.30M484.70,340.00V343.30" stroke="#0a0a0a" stroke-width="1.1" fill="none"/>
<path d="M329.80,259.10H348.80V264.60H356.80V270.20H360.60V276.40H361.30V282.40H372.80V287.80H376.30V293.20H387.30V299.40H428.70V329.90H484.50" stroke="#0a0a0a" stroke-width="1.7" fill="none" stroke-linejoin="miter"/>
<path d="M395.00,297.60V300.90M397.00,297.60V300.90M399.00,297.60V300.90M402.00,297.60V300.90M404.00,297.60V300.90M406.00,297.60V300.90M408.00,297.60V300.90M410.00,297.60V300.90M412.00,297.60V300.90M414.00,297.60V300.90M416.00,297.60V300.90M418.00,297.60V300.90M420.00,297.60V300.90M433.00,328.10V331.40M484.50,328.10V331.40" stroke="#0a0a0a" stroke-width="1.1" fill="none"/>
<path d="M400.10,259.20H409.10M404.60,259.20V256.80" stroke="#0a0a0a" stroke-width="1.8" fill="none"/>
<text x="412.10" y="260.60" font-size="8.1" text-anchor="start" fill="#1a1a1a" textLength="96.8" lengthAdjust="spacingAndGlyphs">MRD-neg, no prior treatment</text>
<rect x="399.95" y="267.75" width="1.70" height="1.70" fill="#0a0a0a"/>
<rect x="407.55" y="267.75" width="1.70" height="1.70" fill="#0a0a0a"/>
<path d="M403.10,269.60L404.60,266.60L406.10,269.60Z" fill="#0a0a0a"/>
<text x="412.10" y="270.00" font-size="8.1" text-anchor="start" fill="#1a1a1a" textLength="100.0" lengthAdjust="spacingAndGlyphs">MRD-neg, previous treatment</text>
<path d="M400.10,278.60H409.10M404.60,278.60V276.20" stroke="#6e6e6e" stroke-width="1.4" fill="none"/>
<text x="412.10" y="279.90" font-size="8.1" text-anchor="start" fill="#1a1a1a" textLength="96.6" lengthAdjust="spacingAndGlyphs">MRD-pos, no prior treatment</text>
<rect x="399.95" y="286.95" width="1.70" height="1.70" fill="#666666"/>
<rect x="407.55" y="286.95" width="1.70" height="1.70" fill="#666666"/>
<path d="M403.10,288.80L404.60,285.80L406.10,288.80Z" fill="#666666"/>
<text x="412.10" y="289.00" font-size="8.1" text-anchor="start" fill="#1a1a1a" textLength="100.0" lengthAdjust="spacingAndGlyphs">MRD-pos, previous treatment</text>
<text x="470.90" y="385.60" font-size="8.0" font-weight="bold" text-anchor="middle" fill="#000" textLength="27.7" lengthAdjust="spacingAndGlyphs">P&lt;0.001</text>
<text x="291.80" y="440.30" font-size="7.8" font-weight="bold" text-anchor="middle" fill="#000" textLength="27.4" lengthAdjust="spacingAndGlyphs">Number</text>
<text x="291.80" y="449.30" font-size="7.8" font-weight="bold" text-anchor="middle" fill="#000" textLength="22.0" lengthAdjust="spacingAndGlyphs">at risk</text>
<path d="M312.40,428.10H321.10M316.75,428.10V425.70" stroke="#0a0a0a" stroke-width="1.8" fill="none"/>
<text transform="translate(329.90,431.05) scale(0.91,1)" font-size="8.2" text-anchor="middle" fill="#1a1a1a">23</text>
<text transform="translate(371.55,431.05) scale(0.91,1)" font-size="8.2" text-anchor="middle" fill="#1a1a1a">19</text>
<text transform="translate(413.20,431.05) scale(0.91,1)" font-size="8.2" text-anchor="middle" fill="#1a1a1a">7</text>
<text transform="translate(454.85,431.05) scale(0.91,1)" font-size="8.2" text-anchor="middle" fill="#1a1a1a">1</text>
<text transform="translate(496.50,431.05) scale(0.91,1)" font-size="8.2" text-anchor="middle" fill="#1a1a1a">0</text>
<rect x="312.25" y="437.05" width="1.70" height="1.70" fill="#0a0a0a"/>
<rect x="319.55" y="437.05" width="1.70" height="1.70" fill="#0a0a0a"/>
<path d="M315.25,438.90L316.75,435.90L318.25,438.90Z" fill="#0a0a0a"/>
<text transform="translate(329.90,440.85) scale(0.91,1)" font-size="8.2" text-anchor="middle" fill="#1a1a1a">32</text>
<text transform="translate(371.55,440.85) scale(0.91,1)" font-size="8.2" text-anchor="middle" fill="#1a1a1a">18</text>
<text transform="translate(413.20,440.85) scale(0.91,1)" font-size="8.2" text-anchor="middle" fill="#1a1a1a">10</text>
<text transform="translate(454.85,440.85) scale(0.91,1)" font-size="8.2" text-anchor="middle" fill="#1a1a1a">3</text>
<text transform="translate(496.50,440.85) scale(0.91,1)" font-size="8.2" text-anchor="middle" fill="#1a1a1a">0</text>
<path d="M312.40,447.70H321.10M316.75,447.70V445.30" stroke="#6e6e6e" stroke-width="1.4" fill="none"/>
<text transform="translate(329.90,450.65) scale(0.91,1)" font-size="8.2" text-anchor="middle" fill="#1a1a1a">34</text>
<text transform="translate(371.55,450.65) scale(0.91,1)" font-size="8.2" text-anchor="middle" fill="#1a1a1a">19</text>
<text transform="translate(413.20,450.65) scale(0.91,1)" font-size="8.2" text-anchor="middle" fill="#1a1a1a">7</text>
<text transform="translate(454.85,450.65) scale(0.91,1)" font-size="8.2" text-anchor="middle" fill="#1a1a1a">0</text>
<text transform="translate(496.50,450.65) scale(0.91,1)" font-size="8.2" text-anchor="middle" fill="#1a1a1a">0</text>
<rect x="312.25" y="456.45" width="1.70" height="1.70" fill="#666666"/>
<rect x="319.55" y="456.45" width="1.70" height="1.70" fill="#666666"/>
<path d="M315.25,458.30L316.75,455.30L318.25,458.30Z" fill="#666666"/>
<text transform="translate(329.90,460.25) scale(0.91,1)" font-size="8.2" text-anchor="middle" fill="#1a1a1a">44</text>
<text transform="translate(371.55,460.25) scale(0.91,1)" font-size="8.2" text-anchor="middle" fill="#1a1a1a">15</text>
<text transform="translate(413.20,460.25) scale(0.91,1)" font-size="8.2" text-anchor="middle" fill="#1a1a1a">4</text>
<text transform="translate(454.85,460.25) scale(0.91,1)" font-size="8.2" text-anchor="middle" fill="#1a1a1a">0</text>
<text transform="translate(496.50,460.25) scale(0.91,1)" font-size="8.2" text-anchor="middle" fill="#1a1a1a">0</text>
<path d="M60.80,495.90V627.40M56.80,626.80H60.80M58.80,613.79H60.80M58.80,600.78H60.80M58.80,587.77H60.80M58.80,574.76H60.80M56.80,561.75H60.80M58.80,548.74H60.80M58.80,535.73H60.80M58.80,522.72H60.80M58.80,509.71H60.80M56.80,496.70H60.80M57.60,626.80H229.55M60.80,626.80V630.10M71.85,626.80V628.40M82.90,626.80V628.40M93.95,626.80V628.40M105.00,626.80V628.40M116.05,626.80V630.10M127.10,626.80V628.40M138.15,626.80V628.40M149.20,626.80V628.40M160.25,626.80V628.40M171.30,626.80V630.10M182.35,626.80V628.40M193.40,626.80V628.40M204.45,626.80V628.40M215.50,626.80V628.40M226.55,626.80V630.10" stroke="#111" stroke-width="1.3" fill="none"/>
<text transform="translate(54.90,630.40) scale(0.95,1)" font-size="8.3" text-anchor="end" fill="#222">0</text>
<text transform="translate(54.90,565.35) scale(0.95,1)" font-size="8.3" text-anchor="end" fill="#222">50</text>
<text transform="translate(54.90,500.30) scale(0.95,1)" font-size="8.3" text-anchor="end" fill="#222">100</text>
<text transform="translate(60.80,640.50) scale(0.95,1)" font-size="8.3" text-anchor="middle" fill="#222">0</text>
<text transform="translate(116.05,640.50) scale(0.95,1)" font-size="8.3" text-anchor="middle" fill="#222">5</text>
<text transform="translate(171.30,640.50) scale(0.95,1)" font-size="8.3" text-anchor="middle" fill="#222">10</text>
<text transform="translate(226.55,640.50) scale(0.95,1)" font-size="8.3" text-anchor="middle" fill="#222">15</text>
<text transform="translate(9.60,486.40) scale(0.9,1)" font-size="13.1" font-weight="bold" text-anchor="start" fill="#000" style="stroke-width:0.4px">E</text>
<text transform="translate(34.70,560.75) rotate(-90)" font-size="8.8" text-anchor="middle" fill="#222" textLength="97.0" lengthAdjust="spacingAndGlyphs">Percent progression-free</text>
<text x="89.00" y="653.60" font-size="9.4" text-anchor="start" fill="#222" textLength="110.6" lengthAdjust="spacingAndGlyphs">Years since end of treatment</text>
<path d="M60.80,496.60H68.00V497.70H68.50V505.40H68.80V520.80H71.80V523.80H72.60V533.10H73.40V542.30H74.90V551.50H75.50V560.00H77.20V561.50H78.00V571.50H86.00V583.80H87.20V593.00H92.40V603.80H97.00V615.80H136.90V625.80H136.90" stroke="#666666" stroke-width="1.9" fill="none" stroke-linejoin="miter" stroke-dasharray="2.0 1.4"/>
<path d="M136.90,624.00V627.30" stroke="#666666" stroke-width="1.1" fill="none"/>
<path d="M60.80,496.60H68.80V497.00H70.30V500.80H71.80V506.90H73.40V511.50H75.70V516.90H77.20V522.30H78.80V528.50H81.10V533.10H82.60V539.20H84.20V545.40H85.70V551.50H86.50V559.20H88.80V565.40H90.30V571.50H91.80V579.20H94.20V585.40H96.50V590.00H98.80V594.60H100.30V599.20H102.60V602.50H107.20V607.10H115.00V611.20H120.00V619.20H172.70" stroke="#6e6e6e" stroke-width="1.5" fill="none" stroke-linejoin="miter"/>
<path d="M145.00,617.40V620.70M160.00,617.40V620.70M172.70,617.40V620.70" stroke="#6e6e6e" stroke-width="1.1" fill="none"/>
<path d="M60.80,496.60H81.80V510.00H86.80V525.80H93.80V539.20H94.60V554.20H115.00V571.60H121.80V590.60H129.20V608.80H140.40V626.50H140.40" stroke="#0a0a0a" stroke-width="1.7" fill="none" stroke-linejoin="miter" stroke-dasharray="1.9 1.4"/>
<path d="M109.00,552.40V555.70M140.40,624.70V628.00" stroke="#0a0a0a" stroke-width="1.1" fill="none"/>
<path d="M60.80,496.60H69.50V501.10H81.10V506.90H81.80V510.80H82.60V515.40H106.80V521.50H108.50V528.50H109.50V534.60H114.00V540.00H125.40V546.80H146.00V553.60H195.80" stroke="#0a0a0a" stroke-width="1.7" fill="none" stroke-linejoin="miter"/>
<path d="M90.00,513.60V516.90M104.00,513.60V516.90M154.50,551.80V555.10M156.00,551.80V555.10M158.00,551.80V555.10M163.60,551.80V555.10M166.80,551.80V555.10M170.20,551.80V555.10M183.30,551.80V555.10M195.80,551.80V555.10" stroke="#0a0a0a" stroke-width="1.1" fill="none"/>
<path d="M143.10,495.20H152.10M147.60,495.20V492.80" stroke="#0a0a0a" stroke-width="1.8" fill="none"/>
<text x="156.10" y="496.50" font-size="8.1" text-anchor="start" fill="#1a1a1a" textLength="90.3" lengthAdjust="spacingAndGlyphs">MRD-neg, no del(17p/11q)</text>
<rect x="142.95" y="504.15" width="1.70" height="1.70" fill="#0a0a0a"/>
<rect x="150.55" y="504.15" width="1.70" height="1.70" fill="#0a0a0a"/>
<path d="M146.10,506.00L147.60,503.00L149.10,506.00Z" fill="#0a0a0a"/>
<text x="156.10" y="506.20" font-size="8.1" text-anchor="start" fill="#1a1a1a" textLength="78.8" lengthAdjust="spacingAndGlyphs">MRD-neg, del(17p/11q)</text>
<path d="M143.10,514.80H152.10M147.60,514.80V512.40" stroke="#6e6e6e" stroke-width="1.4" fill="none"/>
<text x="156.10" y="515.80" font-size="8.1" text-anchor="start" fill="#1a1a1a" textLength="90.3" lengthAdjust="spacingAndGlyphs">MRD-pos, no del(17p/11q)</text>
<rect x="142.95" y="523.05" width="1.70" height="1.70" fill="#666666"/>
<rect x="150.55" y="523.05" width="1.70" height="1.70" fill="#666666"/>
<path d="M146.10,524.90L147.60,521.90L149.10,524.90Z" fill="#666666"/>
<text x="156.10" y="525.40" font-size="8.1" text-anchor="start" fill="#1a1a1a" textLength="78.8" lengthAdjust="spacingAndGlyphs">MRD-pos, del(17p/11q)</text>
<text x="201.40" y="621.60" font-size="8.0" font-weight="bold" text-anchor="middle" fill="#000" textLength="27.7" lengthAdjust="spacingAndGlyphs">P&lt;0.001</text>
<text x="22.80" y="675.60" font-size="7.8" font-weight="bold" text-anchor="middle" fill="#000" textLength="27.4" lengthAdjust="spacingAndGlyphs">Number</text>
<text x="22.80" y="684.60" font-size="7.8" font-weight="bold" text-anchor="middle" fill="#000" textLength="22.0" lengthAdjust="spacingAndGlyphs">at risk</text>
<path d="M43.40,664.30H52.10M47.75,664.30V661.90" stroke="#0a0a0a" stroke-width="1.8" fill="none"/>
<text transform="translate(60.80,667.25) scale(0.91,1)" font-size="8.2" text-anchor="middle" fill="#1a1a1a">29</text>
<text transform="translate(116.05,667.25) scale(0.91,1)" font-size="8.2" text-anchor="middle" fill="#1a1a1a">14</text>
<text transform="translate(171.30,667.25) scale(0.91,1)" font-size="8.2" text-anchor="middle" fill="#1a1a1a">2</text>
<text transform="translate(226.55,667.25) scale(0.91,1)" font-size="8.2" text-anchor="middle" fill="#1a1a1a">0</text>
<rect x="43.25" y="673.05" width="1.70" height="1.70" fill="#0a0a0a"/>
<rect x="50.55" y="673.05" width="1.70" height="1.70" fill="#0a0a0a"/>
<path d="M46.25,674.90L47.75,671.90L49.25,674.90Z" fill="#0a0a0a"/>
<text transform="translate(60.80,676.85) scale(0.91,1)" font-size="8.2" text-anchor="middle" fill="#1a1a1a">9</text>
<text transform="translate(116.05,676.85) scale(0.91,1)" font-size="8.2" text-anchor="middle" fill="#1a1a1a">3</text>
<text transform="translate(171.30,676.85) scale(0.91,1)" font-size="8.2" text-anchor="middle" fill="#1a1a1a">0</text>
<text transform="translate(226.55,676.85) scale(0.91,1)" font-size="8.2" text-anchor="middle" fill="#1a1a1a">0</text>
<path d="M43.40,683.70H52.10M47.75,683.70V681.30" stroke="#6e6e6e" stroke-width="1.4" fill="none"/>
<text transform="translate(60.80,686.65) scale(0.91,1)" font-size="8.2" text-anchor="middle" fill="#1a1a1a">44</text>
<text transform="translate(116.05,686.65) scale(0.91,1)" font-size="8.2" text-anchor="middle" fill="#1a1a1a">4</text>
<text transform="translate(171.30,686.65) scale(0.91,1)" font-size="8.2" text-anchor="middle" fill="#1a1a1a">1</text>
<text transform="translate(226.55,686.65) scale(0.91,1)" font-size="8.2" text-anchor="middle" fill="#1a1a1a">0</text>
<rect x="43.25" y="692.55" width="1.70" height="1.70" fill="#666666"/>
<rect x="50.55" y="692.55" width="1.70" height="1.70" fill="#666666"/>
<path d="M46.25,694.40L47.75,691.40L49.25,694.40Z" fill="#666666"/>
<text transform="translate(60.80,696.35) scale(0.91,1)" font-size="8.2" text-anchor="middle" fill="#1a1a1a">15</text>
<text transform="translate(116.05,696.35) scale(0.91,1)" font-size="8.2" text-anchor="middle" fill="#1a1a1a">1</text>
<text transform="translate(171.30,696.35) scale(0.91,1)" font-size="8.2" text-anchor="middle" fill="#1a1a1a">0</text>
<text transform="translate(226.55,696.35) scale(0.91,1)" font-size="8.2" text-anchor="middle" fill="#1a1a1a">0</text>
<path d="M329.60,495.30V627.40M325.60,626.80H329.60M327.60,613.73H329.60M327.60,600.66H329.60M327.60,587.59H329.60M327.60,574.52H329.60M325.60,561.45H329.60M327.60,548.38H329.60M327.60,535.31H329.60M327.60,522.24H329.60M327.60,509.17H329.60M325.60,496.10H329.60M326.40,626.80H498.65M329.60,626.80V630.10M340.67,626.80V628.40M351.74,626.80V628.40M362.81,626.80V628.40M373.88,626.80V628.40M384.95,626.80V630.10M396.02,626.80V628.40M407.09,626.80V628.40M418.16,626.80V628.40M429.23,626.80V628.40M440.30,626.80V630.10M451.37,626.80V628.40M462.44,626.80V628.40M473.51,626.80V628.40M484.58,626.80V628.40M495.65,626.80V630.10" stroke="#111" stroke-width="1.3" fill="none"/>
<text transform="translate(322.90,630.40) scale(0.95,1)" font-size="8.3" text-anchor="end" fill="#222">0</text>
<text transform="translate(322.90,565.05) scale(0.95,1)" font-size="8.3" text-anchor="end" fill="#222">50</text>
<text transform="translate(322.90,499.70) scale(0.95,1)" font-size="8.3" text-anchor="end" fill="#222">100</text>
<text transform="translate(329.60,640.50) scale(0.95,1)" font-size="8.3" text-anchor="middle" fill="#222">0</text>
<text transform="translate(384.95,640.50) scale(0.95,1)" font-size="8.3" text-anchor="middle" fill="#222">5</text>
<text transform="translate(440.30,640.50) scale(0.95,1)" font-size="8.3" text-anchor="middle" fill="#222">10</text>
<text transform="translate(495.65,640.50) scale(0.95,1)" font-size="8.3" text-anchor="middle" fill="#222">15</text>
<text transform="translate(278.00,486.40) scale(0.9,1)" font-size="13.1" font-weight="bold" text-anchor="start" fill="#000" style="stroke-width:0.4px">F</text>
<text transform="translate(303.50,560.45) rotate(-90)" font-size="8.8" text-anchor="middle" fill="#222" textLength="48.6" lengthAdjust="spacingAndGlyphs">Percent alive</text>
<text x="358.30" y="653.60" font-size="9.4" text-anchor="start" fill="#222" textLength="110.6" lengthAdjust="spacingAndGlyphs">Years since end of treatment</text>
<path d="M329.60,496.20H336.00V498.00H337.80V503.00H340.00V506.50H342.40V510.00H343.20V520.80H343.90V530.00H345.00V535.00H346.20V539.60H350.60V557.70H358.80V566.00H369.60V583.20H387.00V587.70H388.50V592.30H389.60V598.50H390.40V601.50H403.80V609.20H444.40" stroke="#666666" stroke-width="1.9" fill="none" stroke-linejoin="miter" stroke-dasharray="2.0 1.4"/>
<path d="M415.00,607.40V610.70M420.00,607.40V610.70M444.40,607.40V610.70" stroke="#666666" stroke-width="1.1" fill="none"/>
<path d="M329.60,496.20H337.80V498.50H340.00V499.50H342.40V500.80H343.90V505.40H345.50V507.50H347.00V510.00H348.50V512.50H350.00V515.40H351.20V517.50H352.40V520.00H354.00V522.30H355.50V524.60H357.20V526.20H359.30V528.50H361.50V529.50H364.20V531.20H370.80V535.50H371.40V540.00H373.00V542.00H375.00V544.60H377.50V547.50H379.60V550.80H381.00V553.50H382.70V556.90H384.00V559.00H385.80V561.50H387.60V563.80H389.60V566.20H391.50V567.70H393.50V569.20H395.00V571.50H395.80V573.80H397.00V577.00H398.10V580.00H399.20V582.80H400.40V585.40H408.00V588.00H422.70V590.50H424.20V592.30H425.50V594.00H426.50V595.60H451.20V602.50H457.00" stroke="#6e6e6e" stroke-width="1.5" fill="none" stroke-linejoin="miter"/>
<path d="M435.00,593.80V597.10M440.00,593.80V597.10M445.00,593.80V597.10M448.00,593.80V597.10M457.00,600.70V604.00" stroke="#6e6e6e" stroke-width="1.1" fill="none"/>
<path d="M329.60,496.20H364.70V510.00H370.80V525.00H376.00V539.20H383.40V554.80H401.20V569.00H405.90V598.00H442.50" stroke="#0a0a0a" stroke-width="1.7" fill="none" stroke-linejoin="miter" stroke-dasharray="1.9 1.4"/>
<path d="M430.00,596.20V599.50M435.00,596.20V599.50M442.50,596.20V599.50" stroke="#0a0a0a" stroke-width="1.1" fill="none"/>
<path d="M329.60,496.20H338.50V497.50H339.30V499.20H347.40V505.40H352.80V510.00H354.00V512.00H355.50V514.60H359.70V523.10H370.60V537.70H372.40V541.50H374.00V543.30H375.50V545.40H382.00V547.00H386.00V550.00H391.50V554.80H441.40V572.70H464.60" stroke="#0a0a0a" stroke-width="1.7" fill="none" stroke-linejoin="miter"/>
<path d="M400.00,553.00V556.30M405.00,553.00V556.30M410.00,553.00V556.30M413.00,553.00V556.30M415.00,553.00V556.30M418.00,553.00V556.30M420.00,553.00V556.30M425.00,553.00V556.30M430.00,553.00V556.30M435.00,553.00V556.30M448.00,570.90V574.20M453.00,570.90V574.20M464.60,570.90V574.20" stroke="#0a0a0a" stroke-width="1.1" fill="none"/>
<path d="M400.10,495.00H409.10M404.60,495.00V492.60" stroke="#0a0a0a" stroke-width="1.8" fill="none"/>
<text x="412.10" y="497.00" font-size="8.1" text-anchor="start" fill="#1a1a1a" textLength="90.0" lengthAdjust="spacingAndGlyphs">MRD-neg, no del(17p/11q)</text>
<rect x="399.95" y="503.85" width="1.70" height="1.70" fill="#0a0a0a"/>
<rect x="407.55" y="503.85" width="1.70" height="1.70" fill="#0a0a0a"/>
<path d="M403.10,505.70L404.60,502.70L406.10,505.70Z" fill="#0a0a0a"/>
<text x="412.10" y="506.70" font-size="8.1" text-anchor="start" fill="#1a1a1a" textLength="78.8" lengthAdjust="spacingAndGlyphs">MRD-neg, del(17p/11q)</text>
<path d="M400.10,514.80H409.10M404.60,514.80V512.40" stroke="#6e6e6e" stroke-width="1.4" fill="none"/>
<text x="412.10" y="516.60" font-size="8.1" text-anchor="start" fill="#1a1a1a" textLength="90.0" lengthAdjust="spacingAndGlyphs">MRD-pos, no del(17p/11q)</text>
<rect x="399.95" y="522.95" width="1.70" height="1.70" fill="#666666"/>
<rect x="407.55" y="522.95" width="1.70" height="1.70" fill="#666666"/>
<path d="M403.10,524.80L404.60,521.80L406.10,524.80Z" fill="#666666"/>
<text x="412.10" y="526.00" font-size="8.1" text-anchor="start" fill="#1a1a1a" textLength="78.8" lengthAdjust="spacingAndGlyphs">MRD-pos, del(17p/11q)</text>
<text x="470.90" y="621.60" font-size="8.0" font-weight="bold" text-anchor="middle" fill="#000" textLength="24.4" lengthAdjust="spacingAndGlyphs">P&lt;0.05</text>
<text x="291.80" y="675.60" font-size="7.8" font-weight="bold" text-anchor="middle" fill="#000" textLength="27.4" lengthAdjust="spacingAndGlyphs">Number</text>
<text x="291.80" y="684.60" font-size="7.8" font-weight="bold" text-anchor="middle" fill="#000" textLength="22.0" lengthAdjust="spacingAndGlyphs">at risk</text>
<path d="M312.40,664.30H321.10M316.75,664.30V661.90" stroke="#0a0a0a" stroke-width="1.8" fill="none"/>
<text transform="translate(329.60,667.25) scale(0.91,1)" font-size="8.2" text-anchor="middle" fill="#1a1a1a">29</text>
<text transform="translate(384.95,667.25) scale(0.91,1)" font-size="8.2" text-anchor="middle" fill="#1a1a1a">18</text>
<text transform="translate(440.30,667.25) scale(0.91,1)" font-size="8.2" text-anchor="middle" fill="#1a1a1a">4</text>
<text transform="translate(495.65,667.25) scale(0.91,1)" font-size="8.2" text-anchor="middle" fill="#1a1a1a">0</text>
<rect x="312.25" y="673.05" width="1.70" height="1.70" fill="#0a0a0a"/>
<rect x="319.55" y="673.05" width="1.70" height="1.70" fill="#0a0a0a"/>
<path d="M315.25,674.90L316.75,671.90L318.25,674.90Z" fill="#0a0a0a"/>
<text transform="translate(329.60,676.85) scale(0.91,1)" font-size="8.2" text-anchor="middle" fill="#1a1a1a">9</text>
<text transform="translate(384.95,676.85) scale(0.91,1)" font-size="8.2" text-anchor="middle" fill="#1a1a1a">5</text>
<text transform="translate(440.30,676.85) scale(0.91,1)" font-size="8.2" text-anchor="middle" fill="#1a1a1a">1</text>
<text transform="translate(495.65,676.85) scale(0.91,1)" font-size="8.2" text-anchor="middle" fill="#1a1a1a">0</text>
<path d="M312.40,683.70H321.10M316.75,683.70V681.30" stroke="#6e6e6e" stroke-width="1.4" fill="none"/>
<text transform="translate(329.60,686.65) scale(0.91,1)" font-size="8.2" text-anchor="middle" fill="#1a1a1a">44</text>
<text transform="translate(384.95,686.65) scale(0.91,1)" font-size="8.2" text-anchor="middle" fill="#1a1a1a">23</text>
<text transform="translate(440.30,686.65) scale(0.91,1)" font-size="8.2" text-anchor="middle" fill="#1a1a1a">7</text>
<text transform="translate(495.65,686.65) scale(0.91,1)" font-size="8.2" text-anchor="middle" fill="#1a1a1a">0</text>
<rect x="312.25" y="692.55" width="1.70" height="1.70" fill="#666666"/>
<rect x="319.55" y="692.55" width="1.70" height="1.70" fill="#666666"/>
<path d="M315.25,694.40L316.75,691.40L318.25,694.40Z" fill="#666666"/>
<text transform="translate(329.60,696.35) scale(0.91,1)" font-size="8.2" text-anchor="middle" fill="#1a1a1a">15</text>
<text transform="translate(384.95,696.35) scale(0.91,1)" font-size="8.2" text-anchor="middle" fill="#1a1a1a">5</text>
<text transform="translate(440.30,696.35) scale(0.91,1)" font-size="8.2" text-anchor="middle" fill="#1a1a1a">0</text>
<text transform="translate(495.65,696.35) scale(0.91,1)" font-size="8.2" text-anchor="middle" fill="#1a1a1a">0</text>
</svg>
</body></html>
